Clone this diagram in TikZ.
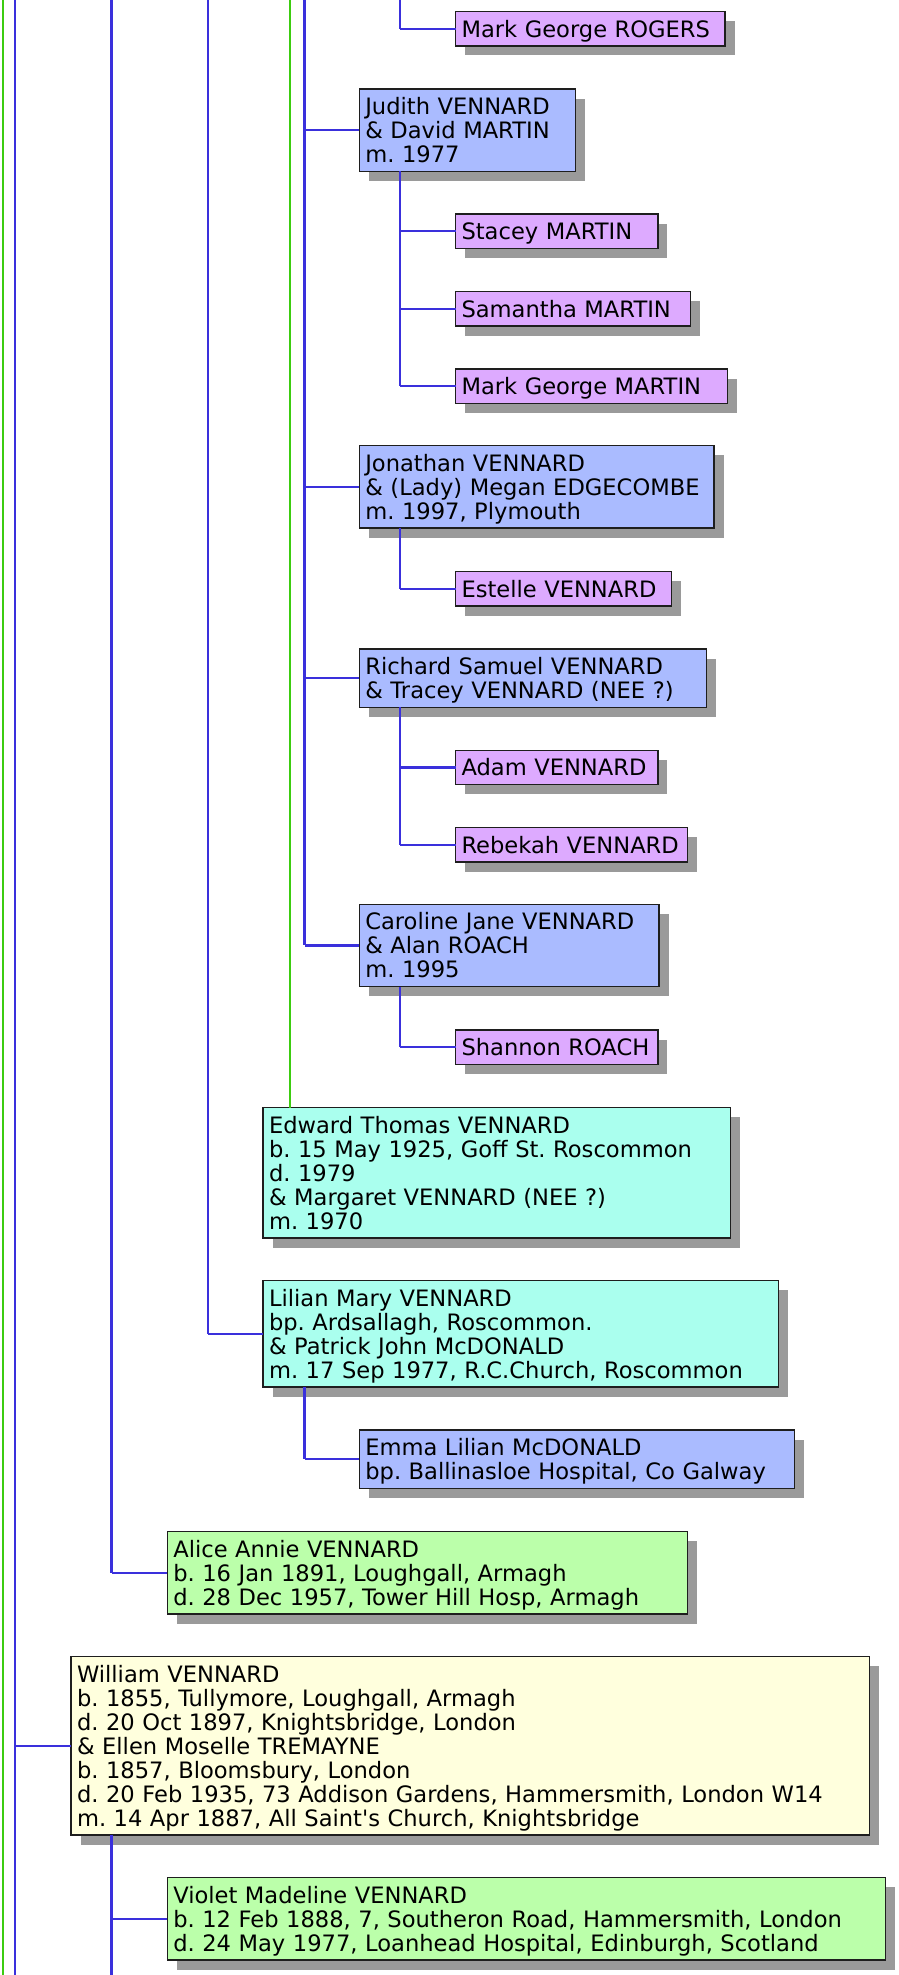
\documentclass[tikz,border=0pt]{standalone}
\usepackage{fontspec}
\setmainfont{DejaVu Sans}[Ligatures=TeXOff]
\usetikzlibrary{shadows,calc}
\definecolor{lineblue}{HTML}{3A30DC}
\definecolor{linegreen}{HTML}{3CCC10}
\definecolor{fpurple}{HTML}{DDAAFF}
\definecolor{fblue}{HTML}{AABBFF}
\definecolor{fcyan}{HTML}{AAFFEE}
\definecolor{fgreen}{HTML}{BBFFAA}
\definecolor{fyellow}{HTML}{FFFFDD}
\definecolor{shadowgray}{HTML}{9A9A9A}
\definecolor{boxborder}{HTML}{1E1E1E}
\newcommand\personfont{\frenchspacing\fontsize{22.6}{24}\selectfont}
\newcommand\tops{\rule{0pt}{25.6pt}}
\newcommand\bots{\rule[-8.7pt]{0pt}{0pt}}
\newcommand\ptext[1]{\tops#1\bots}
\tikzset{
  person/.style={draw=boxborder, line width=1.2pt, anchor=north west,
    inner xsep=6pt, inner ysep=0pt, outer sep=0pt, align=left, text=black,
    font=\personfont,
    general shadow={fill=shadowgray, shadow xshift=9.5pt, shadow yshift=-9.5pt}},
  gen4/.style={person, fill=fpurple},
  gen3/.style={person, fill=fblue},
  gen2/.style={person, fill=fcyan},
  gen1/.style={person, fill=fgreen},
  gen0/.style={person, fill=fyellow},
  trunk/.style={draw=lineblue, line width=2.8pt},
  branch/.style={draw=lineblue, line width=2.2pt},
  gline/.style={draw=linegreen, line width=2pt}
}
\begin{document}
\begin{tikzpicture}[x=1pt,y=-1pt]
\fill[white] (0,0) rectangle (898,1975);
\useasboundingbox (0,0) rectangle (898,1975);

% generation 4
\node[gen4, text width=257.5pt] (rogers) at (455.5,11.7) {\ptext{\mbox{Mark George ROGERS}}};
\node[gen4, text width=190.4pt] (stacey) at (455.5,214) {\ptext{\mbox{Stacey MARTIN}}};
\node[gen4, text width=223pt] (samantha) at (455.5,291.7) {\ptext{\mbox{Samantha MARTIN}}};
\node[gen4, text width=260.3pt] (markm) at (455.5,369) {\ptext{\mbox{Mark George MARTIN}}};
\node[gen4, text width=204.1pt] (estelle) at (455.5,571.7) {\ptext{\mbox{Estelle VENNARD}}};
\node[gen4, text width=190.4pt] (adam) at (455.5,750.3) {\ptext{\mbox{Adam VENNARD}}};
\node[gen4, text width=220.2pt] (rebekah) at (455.5,827.7) {\ptext{\mbox{Rebekah VENNARD}}};
\node[gen4, text width=190.4pt] (shannon) at (455.5,1030) {\ptext{\mbox{Shannon ROACH}}};

% generation 3
\node[gen3, text width=204.1pt] (judith) at (359.3,89)
  {\ptext{\mbox{Judith VENNARD}\\\mbox{\& David MARTIN}\\\mbox{m. 1977}}};
\node[gen3, text width=342.7pt] (jonathan) at (359.3,445.7)
  {\ptext{\mbox{Jonathan VENNARD}\\\mbox{\& (Lady) Megan EDGECOMBE}\\\mbox{m. 1997, Plymouth}}};
\node[gen3, text width=335.3pt] (richard) at (359.3,649)
  {\ptext{\mbox{Richard Samuel VENNARD}\\\mbox{\& Tracey VENNARD (NEE ?)}}};
\node[gen3, text width=287.7pt] (caroline) at (359.3,904.3)
  {\ptext{\mbox{Caroline Jane VENNARD}\\\mbox{\& Alan ROACH}\\\mbox{m. 1995}}};
\node[gen3, text width=423.5pt] (emma) at (359.3,1430)
  {\ptext{\mbox{Emma Lilian McDONALD}\\\mbox{bp. Ballinasloe Hospital, Co Galway}}};

% generation 2
\node[gen2, text width=455.7pt] (edward) at (263,1107.7)
  {\ptext{\mbox{Edward Thomas VENNARD}\\\mbox{b. 15 May 1925, Goff St. Roscommon}\\\mbox{d. 1979}\\\mbox{\& Margaret VENNARD (NEE ?)}\\\mbox{m. 1970}}};
\node[gen2, text width=503.2pt] (lilian) at (263,1280.7)
  {\ptext{\mbox{Lilian Mary VENNARD}\\\mbox{bp. Ardsallagh, Roscommon.}\\\mbox{\& Patrick John McDONALD}\\\mbox{m. 17 Sep 1977, R.C.Church, Roscommon}}};

% generation 1
\node[gen1, text width=508.4pt] (alice) at (167.3,1531.7)
  {\ptext{\mbox{Alice Annie VENNARD}\\\mbox{b. 16 Jan 1891, Loughgall, Armagh}\\\mbox{d. 28 Dec 1957, Tower Hill Hosp, Armagh}}};
\node[gen1, text width=706.1pt] (violet) at (167.3,1877.7)
  {\ptext{\mbox{Violet Madeline VENNARD}\\\mbox{b. 12 Feb 1888, 7, Southeron Road, Hammersmith, London}\\\mbox{d. 24 May 1977, Loanhead Hospital, Edinburgh, Scotland}}};

% generation 0
\node[gen0, text width=786.3pt] (william) at (71,1656.7)
  {\ptext{\mbox{William VENNARD}\\\mbox{b. 1855, Tullymore, Loughgall, Armagh}\\\mbox{d. 20 Oct 1897, Knightsbridge, London}\\\mbox{\& Ellen Moselle TREMAYNE}\\\mbox{b. 1857, Bloomsbury, London}\\\mbox{d. 20 Feb 1935, 73 Addison Gardens, Hammersmith, London W14}\\\mbox{m. 14 Apr 1887, All Saint's Church, Knightsbridge}}};

% long lines from the top of the page
\coordinate (g1t) at (2.5,0);   \coordinate (g1b) at (2.5,1975);
\coordinate (b1t) at (15,0);    \coordinate (b1b) at (15,1975);
\coordinate (b2t) at (111.7,0);
\coordinate (b3t) at (208,0);
\coordinate (g2t) at (290,0);
\coordinate (b4t) at (304.5,0);
\coordinate (b5t) at (400,0);

\draw[gline] (g1t) -- (g1b);
\draw[trunk] (b1t) -- (b1b);
\draw[branch] (b1t |- william.west) -- (william.west);

\draw[trunk] (b2t) -- (b2t |- alice.west);
\draw[branch] (b2t |- alice.west) -- (alice.west);

\draw[trunk] (b3t) -- (b3t |- lilian.west);
\draw[branch] (b3t |- lilian.west) -- (lilian.west);

\draw[gline] (g2t) -- (g2t |- edward.north);

\draw[trunk] (b4t) -- (b4t |- caroline.west);
\draw[branch] (b4t |- judith.west) -- (judith.west);
\draw[branch] (b4t |- jonathan.west) -- (jonathan.west);
\draw[branch] (b4t |- richard.west) -- (richard.west);
\draw[branch] (b4t |- caroline.west) -- (caroline.west);

\draw[trunk] (b5t) -- (b5t |- rogers.west);
\draw[branch] (b5t |- rogers.west) -- (rogers.west);

% children of Judith
\coordinate (jk) at ($(judith.south west)+(40.7,0)$);
\draw[trunk] (jk) -- (jk |- markm.west);
\draw[branch] (jk |- stacey.west) -- (stacey.west);
\draw[branch] (jk |- samantha.west) -- (samantha.west);
\draw[branch] (jk |- markm.west) -- (markm.west);

% child of Jonathan
\coordinate (nk) at ($(jonathan.south west)+(40.7,0)$);
\draw[trunk] (nk) -- (nk |- estelle.west);
\draw[branch] (nk |- estelle.west) -- (estelle.west);

% children of Richard
\coordinate (rk) at ($(richard.south west)+(40.7,0)$);
\draw[trunk] (rk) -- (rk |- rebekah.west);
\draw[branch] (rk |- adam.west) -- (adam.west);
\draw[branch] (rk |- rebekah.west) -- (rebekah.west);

% child of Caroline
\coordinate (ck) at ($(caroline.south west)+(40.7,0)$);
\draw[trunk] (ck) -- (ck |- shannon.west);
\draw[branch] (ck |- shannon.west) -- (shannon.west);

% child of Lilian
\coordinate (lk) at ($(lilian.south west)+(41.5,0)$);
\draw[trunk] (lk) -- (lk |- emma.west);
\draw[branch] (lk |- emma.west) -- (emma.west);

% children of William
\coordinate (wk) at ($(william.south west)+(40.7,0)$);
\coordinate (wkb) at (wk |- b1b);
\draw[trunk] (wk) -- (wkb);
\draw[branch] (wk |- violet.west) -- (violet.west);
\end{tikzpicture}
\end{document}
